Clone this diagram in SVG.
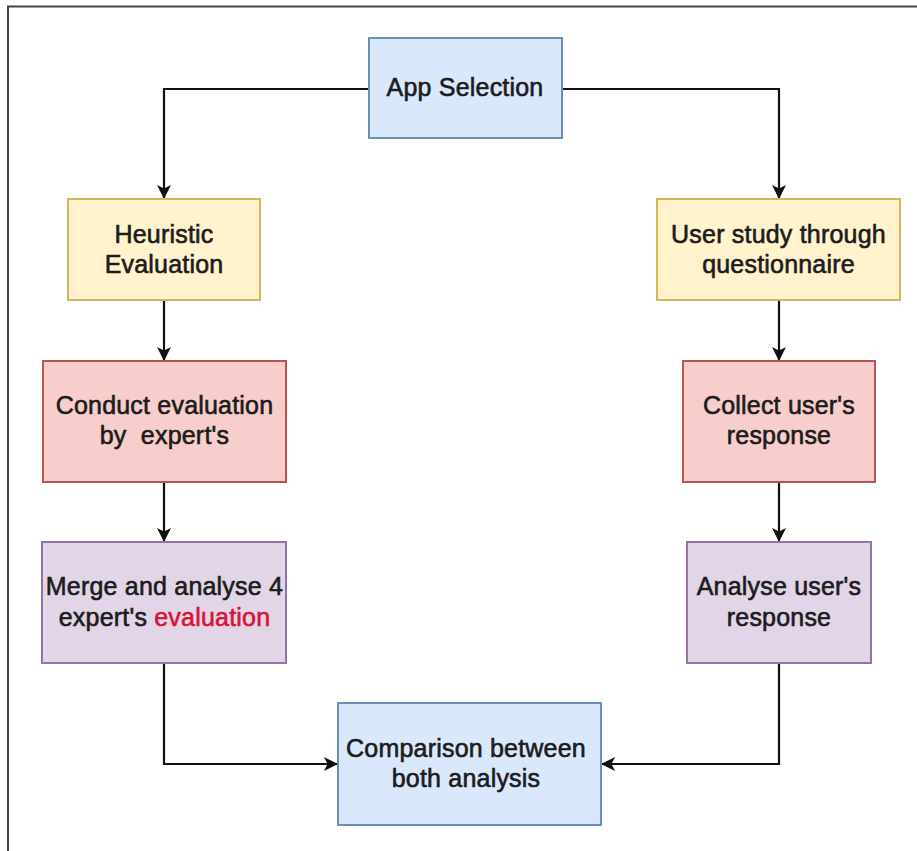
<svg xmlns="http://www.w3.org/2000/svg" width="917" height="851" viewBox="0 0 917 851">
  <style>
    .lbl { font-family: "Liberation Sans", Arial, sans-serif; font-size: 25px; fill: #1c1c1c; text-anchor: middle; stroke: #1c1c1c; stroke-width: 0.6; letter-spacing: 0.2px; }
    .hl { fill: #d8133a; stroke: #d8133a; }
    .blue { fill: #dae8fc; stroke: #6c8ebf; stroke-width: 2; }
    .yellow { fill: #fff2cc; stroke: #d6b656; stroke-width: 2; }
    .red { fill: #f8cecc; stroke: #b85450; stroke-width: 2; }
    .purple { fill: #e1d5e7; stroke: #9673a6; stroke-width: 2; }
    .edge { fill: none; stroke: #111; stroke-width: 2.2; marker-end: url(#arrow); }
  </style>
  <defs>
    <marker id="arrow" viewBox="0 0 14 14" refX="13" refY="7" markerWidth="14" markerHeight="14" markerUnits="userSpaceOnUse" orient="auto">
      <path d="M0,0 L14,7 L0,14 L3.5,7 Z" fill="#111"/>
    </marker>
  </defs>
  <rect width="917" height="851" fill="#ffffff"/>
  <!-- outer frame -->
  <path d="M8,851 L8,6.5 L917,6.5" fill="none" stroke="#444" stroke-width="2"/>

  <g id="connectors">
    <path class="edge" d="M369,89 L164,89 L164,198"/>
    <path class="edge" d="M562,89 L779,89 L779,198"/>
    <path class="edge" d="M164,300 L164,360"/>
    <path class="edge" d="M779,300 L779,360"/>
    <path class="edge" d="M164,482 L164,541"/>
    <path class="edge" d="M779,482 L779,541"/>
    <path class="edge" d="M164,663 L164,764 L337,764"/>
    <path class="edge" d="M779,663 L779,764 L602,764"/>
  </g>

  <g id="app-selection">
    <rect class="blue" x="369" y="38" width="193" height="100"/>
    <text class="lbl" x="465" y="96">App Selection</text>
  </g>
  <g id="heuristic-evaluation">
    <rect class="yellow" x="68" y="199" width="192" height="101"/>
    <text class="lbl" x="164" y="243">Heuristic</text>
    <text class="lbl" x="164" y="273">Evaluation</text>
  </g>
  <g id="user-study">
    <rect class="yellow" x="657" y="199" width="243" height="101"/>
    <text class="lbl" x="778.5" y="243">User study through</text>
    <text class="lbl" x="778.5" y="273">questionnaire</text>
  </g>
  <g id="conduct-evaluation">
    <rect class="red" x="43" y="361" width="243" height="121"/>
    <text class="lbl" x="164.5" y="414">Conduct evaluation</text>
    <text class="lbl" x="164.5" y="444" xml:space="preserve">by  expert's</text>
  </g>
  <g id="collect-response">
    <rect class="red" x="683" y="361" width="192" height="121"/>
    <text class="lbl" x="779" y="414">Collect user's</text>
    <text class="lbl" x="779" y="444">response</text>
  </g>
  <g id="merge-analyse">
    <rect class="purple" x="42" y="542" width="244" height="121"/>
    <text class="lbl" x="164.5" y="595">Merge and analyse 4</text>
    <text class="lbl" x="164.5" y="626">expert's <tspan class="hl">evaluation</tspan></text>
  </g>
  <g id="analyse-response">
    <rect class="purple" x="687" y="542" width="184" height="121"/>
    <text class="lbl" x="779" y="595">Analyse user's</text>
    <text class="lbl" x="779" y="626">response</text>
  </g>
  <g id="comparison">
    <rect class="blue" x="338" y="703" width="263" height="122"/>
    <text class="lbl" x="466" y="757">Comparison between</text>
    <text class="lbl" x="466" y="787">both analysis</text>
  </g>
</svg>
